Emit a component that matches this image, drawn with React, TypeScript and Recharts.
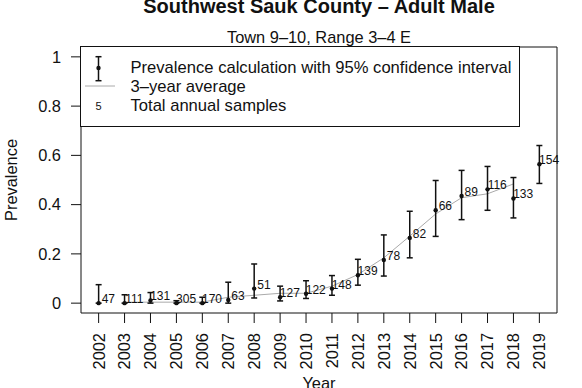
import React from 'react';
import {
    ComposedChart,
    Scatter,
    Line,
    XAxis,
    YAxis,
    ErrorBar,
    ReferenceArea,
    Legend,
} from 'recharts';

// values
const years = [2002, 2003, 2004, 2005, 2006, 2007, 2008, 2009, 2010, 2011, 2012, 2013, 2014, 2015, 2016, 2017, 2018, 2019];
const prevalence = [0, 0, 0.011, 0, 0, 0.013, 0.059, 0.024, 0.038, 0.059, 0.113, 0.175, 0.265, 0.377, 0.435, 0.462, 0.425, 0.564];
const lower = [0, 0, 0, 0, 0, 0, 0.021, 0.009, 0.019, 0.032, 0.073, 0.11, 0.184, 0.271, 0.339, 0.377, 0.346, 0.486];
const upper = [0.075, 0.034, 0.043, 0.01, 0.024, 0.085, 0.159, 0.069, 0.091, 0.112, 0.178, 0.277, 0.373, 0.498, 0.539, 0.555, 0.51, 0.64];
const samples = [47, 111, 131, 305, 170, 63, 51, 127, 122, 148, 139, 78, 82, 66, 89, 116, 133, 154];

const avgYears = [2003, 2004, 2005, 2006, 2007, 2008, 2009, 2010, 2011, 2012, 2013, 2014, 2015, 2016, 2017, 2018];
const threeYearAvg = [0.004, 0.004, 0.004, 0.004, 0.024, 0.032, 0.04, 0.04, 0.069, 0.116, 0.184, 0.272, 0.362, 0.428, 0.444, 0.484];

const yTicks = [0, 0.2, 0.4, 0.6, 0.8, 1];

const FONT = '"Liberation Sans", Arial, Helvetica, sans-serif';
const INK = '#111';
const TXT = 16.4;

const points = years.map((year, i) => ({
    year,
    prev: prevalence[i],
    lo: lower[i],
    hi: upper[i],
    n: samples[i],
}));

const avgLine = avgYears.map((year, i) => ({ year, avg: threeYearAvg[i] }));

const X_DOMAIN: [number, number] = [2001.32, 2019.68];
const Y_DOMAIN: [number, number] = [-0.04, 1.04];

const YearTick = (props: any) => {
    const { x, y, payload } = props;
    return (
        <text
            x={x}
            y={y}
            transform={`rotate(-90, ${x}, ${y})`}
            textAnchor="end"
            dy="0.36em"
            fontSize={TXT}
            fontFamily={FONT}
            fill={INK}
        >
            {payload.value}
        </text>
    );
};

// point plus the sample count, centred a little to the right like R's text()
const PointWithCount = (props: any) => {
    const { cx, cy, payload } = props;
    return (
        <g>
            <circle cx={cx} cy={cy} r={2.2} fill={INK} />
            <text x={cx + 9.7} y={cy} textAnchor="middle" fontSize={12} fontFamily={FONT} fill={INK}>
                {payload.n}
            </text>
        </g>
    );
};

const LegendBox = () => (
    <svg width={441} height={82} style={{ display: 'block' }}>
        <rect x={0.5} y={0.5} width={439} height={80} fill="#fff" stroke={INK} strokeWidth={1} />
        <line x1={18.5} y1={10.7} x2={18.5} y2={34.7} stroke={INK} strokeWidth={1.5} />
        <line x1={15.5} y1={10.7} x2={21.5} y2={10.7} stroke={INK} strokeWidth={1.5} />
        <line x1={15.5} y1={34.7} x2={21.5} y2={34.7} stroke={INK} strokeWidth={1.5} />
        <circle cx={18.5} cy={22} r={2.2} fill={INK} />
        <line x1={5} y1={40} x2={35} y2={40} stroke="#aaa" strokeWidth={1} />
        <text x={18.5} y={64} textAnchor="middle" fontSize={11} fontFamily={FONT} fill={INK}>5</text>
        <g fontSize={16.6} fontFamily={FONT} fill={INK}>
            <text x={50.5} y={26.7}>Prevalence calculation with 95% confidence interval</text>
            <text x={50.5} y={46}>3–year average</text>
            <text x={50.5} y={65.3}>Total annual samples</text>
        </g>
    </svg>
);

export default function App() {
    return (
        <div style={{ position: 'absolute', left: 0, top: 0, width: 582, height: 388, background: '#fff' }}>
            <ComposedChart
                width={582}
                height={388}
                margin={{ top: 47, right: 25, bottom: 0, left: 0 }}
                style={{ fontFamily: FONT }}
            >
                <XAxis
                    dataKey="year"
                    type="number"
                    domain={X_DOMAIN}
                    ticks={years}
                    interval={0}
                    axisLine={false}
                    tickLine={{ stroke: INK }}
                    stroke={INK}
                    tickSize={10}
                    tickMargin={10}
                    height={75}
                    tick={<YearTick />}
                    label={{ value: 'Year', position: 'insideBottom', offset: -1, fontSize: TXT, fill: INK, fontFamily: FONT }}
                />
                <YAxis
                    type="number"
                    domain={Y_DOMAIN}
                    ticks={yTicks}
                    width={81}
                    axisLine={false}
                    tickLine={{ stroke: INK }}
                    stroke={INK}
                    tickSize={10}
                    tickMargin={10}
                    tick={{ fontSize: TXT, fill: INK, fontFamily: FONT }}
                    label={{
                        value: 'Prevalence',
                        angle: -90,
                        position: 'insideLeft',
                        offset: 11.5,
                        fontSize: TXT,
                        fill: INK,
                        fontFamily: FONT,
                        style: { textAnchor: 'middle' },
                    }}
                />
                <ReferenceArea
                    x1={X_DOMAIN[0]}
                    x2={X_DOMAIN[1]}
                    y1={Y_DOMAIN[0]}
                    y2={Y_DOMAIN[1]}
                    fill="none"
                    fillOpacity={0}
                    stroke={INK}
                    strokeWidth={1}
                    ifOverflow="extendDomain"
                />
                <Line
                    data={avgLine}
                    dataKey="avg"
                    type="linear"
                    stroke="#aaa"
                    strokeWidth={1}
                    dot={false}
                    activeDot={false}
                    isAnimationActive={false}
                />
                <Scatter
                    data={points}
                    dataKey="prev"
                    shape={<PointWithCount />}
                    isAnimationActive={false}
                >
                    <ErrorBar
                        dataKey={(d: any) => [d.prev - d.lo, d.hi - d.prev]}
                        direction="y"
                        width={3}
                        stroke={INK}
                        strokeWidth={1.5}
                        isAnimationActive={false}
                    />
                </Scatter>
                <Legend
                    layout="horizontal"
                    verticalAlign="middle"
                    align="center"
                    wrapperStyle={{ position: 'absolute', left: 80, top: 46, width: 441, height: 82 }}
                    content={() => <LegendBox />}
                />
            </ComposedChart>
            <svg
                width={582}
                height={388}
                style={{ position: 'absolute', left: 0, top: 0, pointerEvents: 'none' }}
            >
                <text x={319} y={12.7} textAnchor="middle" fontSize={20} fontWeight="bold" fontFamily={FONT} fill={INK}>
                    Southwest Sauk County – Adult Male
                </text>
                <text x={319} y={43.3} textAnchor="middle" fontSize={TXT} fontFamily={FONT} fill={INK}>
                    Town 9–10, Range 3–4 E
                </text>
            </svg>
        </div>
    );
}
